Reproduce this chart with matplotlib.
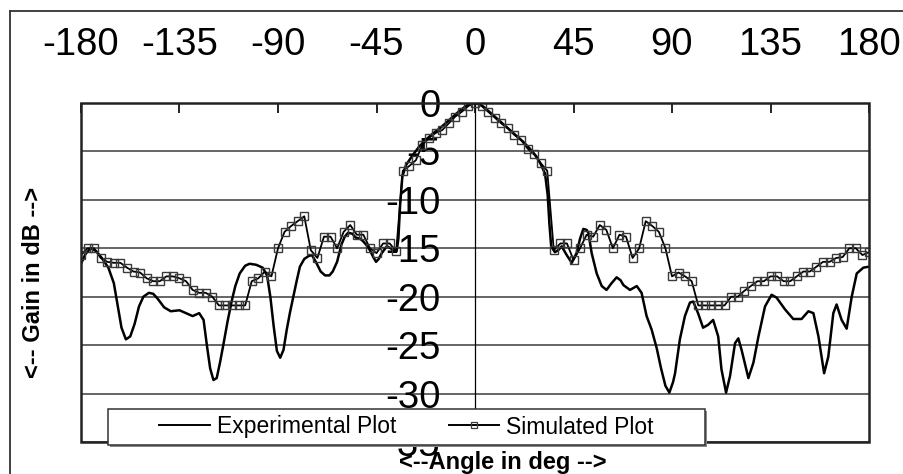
import matplotlib
matplotlib.use("Agg")
import matplotlib.pyplot as plt
from matplotlib.lines import Line2D
from matplotlib.patches import Rectangle

plt.rcParams['font.family'] = ['Liberation Sans', 'DejaVu Sans']

# ---------------- data ----------------
x_ticks = [-180, -135, -90, -45, 0, 45, 90, 135, 180]
x_tick_labels = ["-180", "-135", "-90", "-45", "0", "45", "90", "135", "180"]
y_ticks = [-35, -30, -25, -20, -15, -10, -5, 0]
y_tick_labels = ["-35", "-30", "-25", "-20", "-15", "-10", "-5", "0"]

sim_angle = [-180, -177, -174, -171, -168, -165, -162, -159, -156, -153,
             -150, -147, -144, -141, -138, -135, -132, -129, -126, -123,
             -120, -117, -114, -111, -108, -105, -102, -99, -96, -93,
             -90, -87, -84, -81, -78, -75, -72, -69, -66, -63,
             -60, -57, -54, -51, -48, -45, -42, -39, -36, -33,
             -30, -27, -24, -21, -18, -15, -12, -9, -6, -3,
             0, 3, 6, 9, 12, 15, 18, 21, 24, 27,
             30, 33, 36, 39, 42, 45, 48, 51, 54, 57,
             60, 63, 66, 69, 72, 75, 78, 81, 84, 87,
             90, 93, 96, 99, 102, 105, 108, 111, 114, 117,
             120, 123, 126, 129, 132, 135, 138, 141, 144, 147,
             150, 153, 156, 159, 162, 165, 168, 171, 174, 177, 180]
sim_gain = [-15.7, -15.0, -15.0, -16.0, -16.4, -16.5, -16.5, -17.0, -17.4, -17.5,
            -18.1, -18.4, -18.4, -17.9, -17.9, -18.1, -18.4, -19.3, -19.6, -19.6,
            -20.0, -20.9, -20.9, -20.9, -20.9, -20.9, -18.4, -18.1, -17.4, -17.9,
            -15.0, -13.3, -12.7, -12.2, -11.7, -15.2, -16.0, -13.8, -13.8, -15.0,
            -13.3, -12.6, -13.6, -13.6, -15.0, -15.5, -14.5, -14.5, -15.3, -7.0,
            -6.5, -5.9, -4.3, -3.6, -3.1, -2.8, -2.1, -1.4, -0.9, -0.3,
            0.0, -0.3, -0.9, -1.5, -2.1, -2.6, -3.3, -3.8, -4.7, -5.3,
            -6.2, -7.0, -15.2, -14.5, -14.5, -16.2, -15.0, -13.6, -13.8, -12.6,
            -13.1, -15.0, -13.6, -13.8, -16.0, -15.0, -12.2, -12.7, -13.3, -15.0,
            -17.9, -17.5, -17.9, -18.4, -20.9, -20.9, -20.9, -20.9, -20.9, -20.0,
            -20.0, -19.4, -18.9, -18.4, -18.4, -17.9, -17.9, -18.4, -18.4, -17.9,
            -17.4, -17.4, -16.9, -16.4, -16.4, -16.0, -15.9, -15.0, -15.0, -15.7, -15.4]

exp_angle = [-180, -178, -175.5, -173, -170.5, -167.5, -165, -163.5, -161.5, -159.5,
             -157.5, -155.5, -153.5, -151.5, -149, -147, -145, -142, -139, -135,
             -132, -129, -126, -124, -122.5, -121, -119.5, -118, -116.5, -115,
             -113, -111, -109.5, -107.5, -105, -103, -100, -97, -95, -93.5,
             -92, -90.5, -89, -87.5, -86, -84.5, -83, -81.5, -80, -78,
             -76, -74.5, -72.5, -70.5, -68.5, -66.5, -65, -63, -61, -59.5,
             -58, -56, -54.5, -52.5, -51, -49.5, -48, -46.5, -45.2, -44,
             -42.6, -40.3, -38.5, -37, -35.8, -35, -34.2, -33.2, -31.5, -28.5,
             -25.5, -22, -19, -16, -13, -10, -7, -4, -2, 0,
             2, 4, 7, 10, 13, 16, 19, 22, 25, 28,
             30, 32, 33.2, 34, 34.8, 36.5, 38, 39.6, 41.9, 44.2,
             46.4, 48, 49.5, 51, 51.8, 53.3, 55.6, 57.9, 60.1, 62.4,
             64.7, 66.5, 67.8, 70.8, 73.9, 76.1, 78.4, 80.7, 83, 85,
             87, 88.8, 90.5, 91.4, 93.6, 95.9, 98.2, 99.7, 101.9, 104.2,
             106.5, 108.8, 111.1, 112.6, 114.7, 116.5, 118.8, 120.3, 121.8, 124.9,
             127.2, 129.5, 132.5, 135.5, 137.8, 141.6, 145.4, 149.2, 152.3, 154.6,
             156.9, 159.5, 161.4, 163.7, 165.2, 167.5, 169.8, 172.1, 174.4, 177.4, 180]
exp_gain = [-16.6, -15.6, -15.0, -15.3, -16.0, -17.0, -18.6, -20.6, -23.2, -24.4,
            -24.1, -22.8, -21.0, -20.0, -19.6, -19.7, -20.2, -21.1, -21.5, -21.4,
            -21.7, -22.0, -21.7, -22.4, -25.0, -27.4, -28.6, -28.4, -26.8, -25.0,
            -22.5, -20.3, -18.9, -17.6, -16.8, -16.6, -16.7, -17.0, -17.8, -20.0,
            -23.0, -25.6, -26.3, -25.5, -23.4, -21.6, -20.0, -18.4, -16.9, -16.1,
            -15.8, -15.7, -16.5, -17.4, -17.8, -17.8, -17.4, -16.4, -14.6, -13.8,
            -13.4, -13.5, -13.9, -14.0, -14.3, -14.7, -15.2, -15.9, -16.4, -16.1,
            -15.5, -14.8, -15.0, -15.3, -15.3, -14.0, -10.5, -7.6, -6.4, -5.4,
            -4.5, -3.7, -3.1, -2.6, -2.0, -1.4, -0.8, -0.3, -0.1, 0.0,
            -0.1, -0.4, -1.0, -1.6, -2.2, -2.8, -3.4, -4.0, -4.7, -5.5,
            -6.3, -7.3, -9.5, -12.5, -14.8, -15.4, -15.2, -14.8, -15.7, -16.5,
            -15.5, -14.0, -13.0, -13.1, -13.4, -15.5, -17.6, -18.9, -19.3, -18.6,
            -18.0, -18.3, -18.8, -19.3, -18.9, -19.6, -22.0, -23.4, -25.3, -27.4,
            -29.2, -29.9, -28.8, -27.9, -24.4, -22.0, -20.6, -20.5, -21.7, -23.2,
            -22.9, -22.4, -24.1, -27.5, -29.9, -28.2, -24.8, -24.3, -25.5, -28.4,
            -26.8, -24.1, -21.0, -19.8, -20.1, -21.3, -22.3, -22.3, -21.5, -21.7,
            -24.1, -27.9, -26.2, -21.7, -20.8, -22.4, -23.3, -20.0, -17.6, -17.0, -16.9]

series_labels = ["Experimental Plot", "Simulated Plot"]

# ---------------- figure ----------------
W, H = 904, 474
fig = plt.figure(figsize=(W / 100, H / 100), dpi=100)
ax = fig.add_axes([81 / W, 32 / H, 788 / W, 339 / H])

ax.set_xlim(-180, 180)
ax.set_ylim(-35, 0)

# horizontal grid
ax.yaxis.grid(True, color='#3c3c3c', linewidth=1.1)
ax.set_axisbelow(True)

# curves
ax.plot(exp_angle, exp_gain, color='black', linewidth=1.8, zorder=3)
ax.plot(sim_angle, sim_gain, color='black', linewidth=1.3, marker='s',
        markersize=5.6, markerfacecolor='none', markeredgecolor='#3a3a3a',
        markeredgewidth=1.0, zorder=4)

# x axis on top
ax.xaxis.tick_top()
ax.set_xticks(x_ticks)
ax.set_xticklabels(x_tick_labels)
ax.tick_params(axis='x', direction='in', length=7, width=1.2, pad=29,
               labelsize=27.5, colors='black')

# y axis through 0
for s in ['top', 'right', 'bottom']:
    ax.spines[s].set_visible(False)
ax.spines['left'].set_position(('data', 0))
ax.spines['left'].set_linewidth(0.9)
ax.set_yticks(y_ticks)
ax.set_yticklabels(y_tick_labels)
ax.tick_params(axis='y', length=0, pad=25, labelsize=27.5)
for lab in ax.get_yticklabels():
    lab.set_clip_on(False)

# plot frame
ax.add_patch(Rectangle((0, 0), 1, 1, transform=ax.transAxes, fill=False,
                       edgecolor='#222222', linewidth=1.8, clip_on=False, zorder=5))

# axis titles
fig.text(34 / W, 1 - 282 / H, '<-- Gain in dB -->', rotation=90, fontsize=17,
         fontweight='bold', ha='center', va='center')
fig.text(503 / W, 1 - 462 / H, '<--Angle in deg -->', fontsize=17,
         fontweight='bold', ha='center', va='center')

# outer frame lines
fig.add_artist(Line2D([10 / W, 10 / W], [0, 1 - 11 / H], transform=fig.transFigure,
                      color='#333333', linewidth=1.3))
fig.add_artist(Line2D([10 / W, 1], [1 - 11 / H, 1 - 11 / H], transform=fig.transFigure,
                      color='#333333', linewidth=1.3))

# legend box
lx0, lx1, ly0, ly1 = 108, 705, 409, 445
fig.add_artist(Rectangle(((lx0 + 2) / W, 1 - (ly1 + 2) / H), (lx1 - lx0) / W, (ly1 - ly0) / H,
                         transform=fig.transFigure, facecolor='#888888',
                         edgecolor='none', zorder=3))
fig.add_artist(Rectangle((lx0 / W, 1 - ly1 / H), (lx1 - lx0) / W, (ly1 - ly0) / H,
                         transform=fig.transFigure, facecolor='white',
                         edgecolor='#333333', linewidth=1.1, zorder=4))
handles = [Line2D([], [], color='black', linewidth=1.4),
           Line2D([], [], color='black', linewidth=1.4, marker='s', markersize=4,
                  markerfacecolor='none', markeredgecolor='#3a3a3a', markeredgewidth=0.9)]
leg = fig.legend(handles, series_labels, loc='center',
                 bbox_to_anchor=((lx0 + lx1) / 2 / W, 1 - (ly0 + ly1) / 2 / H),
                 bbox_transform=fig.transFigure, ncol=2, frameon=False,
                 fontsize=16.5, handlelength=2.2, handletextpad=0.3,
                 columnspacing=2.3, borderpad=0.0)
leg.set_zorder(6)

fig.savefig('out.png', dpi=100)
